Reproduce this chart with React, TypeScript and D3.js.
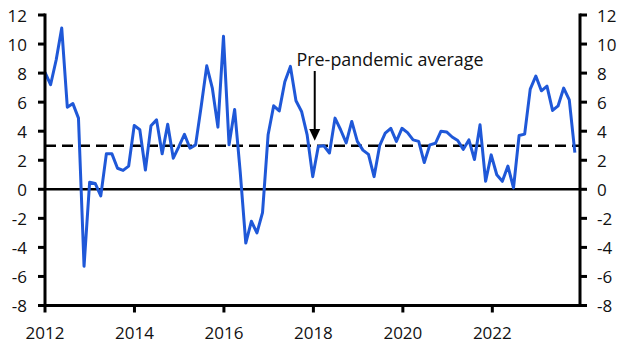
import React from "react";
import * as d3 from "d3";

const W = 631;
const H = 357;

// Series values (roughly 8 observations per year, Jan 2012 – Nov 2023)
const values: number[] = [
  8.05, 7.2, 8.9, 11.1, 5.65, 5.9, 4.9, -5.3, 0.48, 0.4,
  -0.45, 2.44, 2.44, 1.45, 1.3, 1.6, 4.4, 4.1, 1.33, 4.37,
  4.78, 2.44, 4.48, 2.14, 2.94, 3.79, 2.83, 3.06, 5.7, 8.5,
  6.97, 4.28, 10.53, 3.06, 5.5, 1.2, -3.7, -2.2, -3.0, -1.6,
  3.75, 5.75, 5.4, 7.4, 8.46, 6.1, 5.36, 3.75, 0.87, 2.95,
  3.0, 2.5, 4.9, 4.1, 3.2, 4.67, 3.3, 2.7, 2.4, 0.87,
  3.0, 3.86, 4.2, 3.3, 4.2, 3.9, 3.4, 3.3, 1.84, 3.06,
  3.17, 4.0, 3.95, 3.6, 3.36, 2.75, 3.4, 2.05, 4.44, 0.55,
  2.37, 1.0, 0.55, 1.6, 0.1, 3.7, 3.8, 6.9, 7.8, 6.78,
  7.1, 5.43, 5.75, 6.97, 6.16, 2.53,
];
const firstDate = 2012.0;
const lastDate = 2023.845;

const xTicks: number[] = [2012, 2014, 2016, 2018, 2020, 2022];
const yTicks: number[] = [-8, -6, -4, -2, 0, 2, 4, 6, 8, 10, 12];
const average = 3;
const annotationText = "Pre-pandemic average";
const annotationX = 2018.03;

const FONT = "'Open Sans', 'Noto Sans', sans-serif";

export default function App() {
  const x = d3.scaleLinear().domain([2012, 2023.96]).range([45, 580]);
  const y = d3.scaleLinear().domain([-8, 12]).range([305.5, 15]);
  const step = (lastDate - firstDate) / (values.length - 1);
  const pts: [number, number][] = values.map((v, i) => [firstDate + i * step, v]);
  const line = d3
    .line<[number, number]>()
    .x((d) => x(d[0]))
    .y((d) => y(d[1]));

  const left = x(2012);
  const right = x(2023.96);
  const bottom = y(-8);
  const top = y(12);
  const ax = x(annotationX);

  return (
    <div style={{ position: "fixed", left: 0, top: 0 }}>
      <svg width={W} height={H} style={{ display: "block", background: "#fff" }}>
        {/* zero line */}
        <line x1={left} x2={right} y1={y(0)} y2={y(0)} stroke="#000" strokeWidth={2.6} />
        {/* average dashed line */}
        <line
          x1={left}
          x2={right}
          y1={y(average)}
          y2={y(average)}
          stroke="#000"
          strokeWidth={2.6}
          strokeDasharray="11 6"
        />
        {/* series */}
        <path
          d={line(pts) || ""}
          fill="none"
          stroke="#1f58d8"
          strokeWidth={3}
          strokeLinejoin="round"
        />
        {/* axes */}
        <line x1={left} x2={left} y1={top - 1.5} y2={bottom + 1.5} stroke="#000" strokeWidth={3} />
        <line x1={right} x2={right} y1={top - 1.5} y2={bottom + 1.5} stroke="#000" strokeWidth={3} />
        <line x1={left} x2={right} y1={bottom} y2={bottom} stroke="#000" strokeWidth={3} />
        {yTicks.map((t) => (
          <g key={"y" + t}>
            <line x1={left - 7} x2={left} y1={y(t)} y2={y(t)} stroke="#000" strokeWidth={3} />
            <line x1={right} x2={right + 7} y1={y(t)} y2={y(t)} stroke="#000" strokeWidth={3} />
            <text
              x={27}
              y={y(t)}
              textAnchor="end"
              dominantBaseline="central"
              fontFamily={FONT}
              fontSize={17}
              fill="#111"
            >
              {t}
            </text>
            <text
              x={597}
              y={y(t)}
              textAnchor="start"
              dominantBaseline="central"
              fontFamily={FONT}
              fontSize={17}
              fill="#111"
            >
              {t}
            </text>
          </g>
        ))}
        {xTicks.map((t) => (
          <g key={"x" + t}>
            <line x1={x(t)} x2={x(t)} y1={bottom} y2={bottom + 7} stroke="#000" strokeWidth={3} />
            <text
              x={x(t)}
              y={338.5}
              textAnchor="middle"
              fontFamily={FONT}
              fontSize={17}
              fill="#111"
            >
              {t}
            </text>
          </g>
        ))}
        {/* annotation */}
        <text x={296.5} y={65.5} fontFamily={FONT} fontSize={17.9} fill="#111">
          {annotationText}
        </text>
        <line x1={ax} x2={ax} y1={71} y2={130} stroke="#000" strokeWidth={2} />
        <path
          d={`M${ax - 5.5},${129} L${ax + 5.5},${129} L${ax},${y(average) - 5} Z`}
          fill="#000"
        />
      </svg>
    </div>
  );
}
